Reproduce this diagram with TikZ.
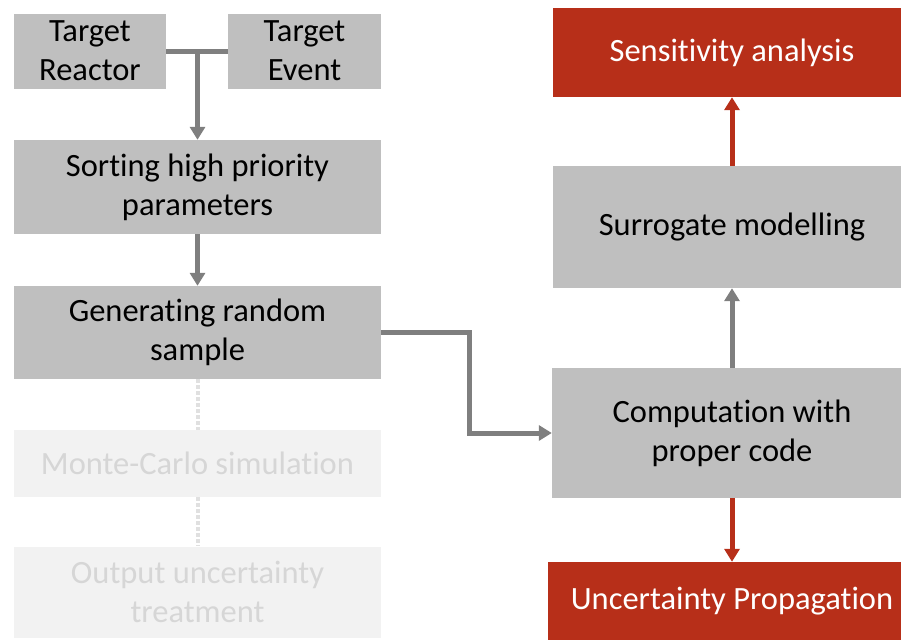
\documentclass[tikz,border=0pt]{standalone}
\usepackage{fontspec}
\setmainfont{Carlito}[Ligatures=NoCommon]
\usetikzlibrary{arrows.meta}
\definecolor{boxgray}{HTML}{BFBFBF}
\definecolor{arrgray}{HTML}{7F7F7F}
\definecolor{boxred}{HTML}{B72F19}
\tikzset{
  box/.style={fill=boxgray, inner sep=0pt, align=center, font=\fontsize{32.5}{39}\selectfont},
  redbox/.style={box, fill=boxred, text=white},
  fadedbox/.style={box, fill=black!5, text=black!16},
  arr/.style={draw=arrgray, line width=5pt, -{Triangle[width=15pt,length=13pt]}},
  redarr/.style={arr, draw=boxred},
  fadedline/.style={draw=black!12, line width=4pt, dotted},
}
\begin{document}
\begin{tikzpicture}[x=1pt, y=-1pt]
    \useasboundingbox (0,0) rectangle (901,641);
    \clip (0,0) rectangle (901,641);
    \node [box, minimum width=152pt, minimum height=75pt] (reactor) at (90,51) {Target\\Reactor};
    \node [box, minimum width=153pt, minimum height=75pt] (event) at (304.5,51) {Target\\Event};
    \node [box, minimum width=367pt, minimum height=94pt] (sorting) at (197.5,187) {Sorting high priority\\parameters};
    \node [box, minimum width=367pt, minimum height=93pt] (generating) at (197.5,332.5) {Generating random\\sample};
    \node [fadedbox, minimum width=367pt, minimum height=67pt] (montecarlo) at (197.5,463.5) {Monte-Carlo simulation};
    \node [fadedbox, minimum width=367pt, minimum height=91pt] (output) at (197.5,592) {Output uncertainty\\treatment};
    \node [redbox, minimum width=358pt, minimum height=89pt] (sensitivity) at (732,52.5) {Sensitivity analysis};
    \node [box, minimum width=358pt, minimum height=122pt] (surrogate) at (732,227) {Surrogate modelling};
    \node [box, minimum width=360pt, minimum height=130pt] (computation) at (732,433) {Computation with\\proper code};
    \node [redbox, minimum width=368pt, minimum height=78pt] (uncertainty) at (732,601) {Uncertainty Propagation};
    \draw [draw=arrgray, line width=5pt] (reactor.east) -- (event.west);
    \draw [arr] (sorting.north |- reactor.east) -- (sorting.north);
    \draw [arr] (sorting) -- (generating);
    \draw [fadedline] (generating) -- (montecarlo);
    \draw [fadedline] (montecarlo) -- (output);
    \draw [arr] (generating.east) -- ++(88,0) |- (computation.west);
    \draw [arr] (computation) -- (surrogate);
    \draw [redarr] (surrogate) -- (sensitivity);
    \draw [redarr] (computation) -- (uncertainty);
\end{tikzpicture}
\end{document}
